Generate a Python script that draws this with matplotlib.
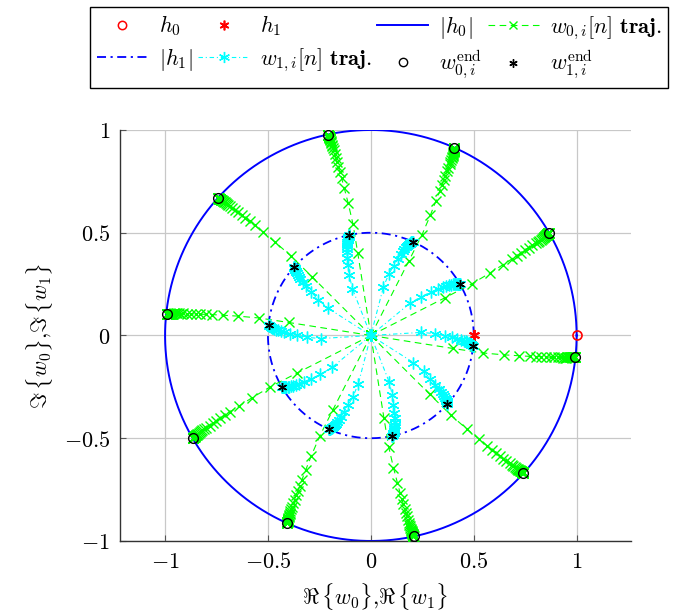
import numpy as np
import matplotlib
matplotlib.use('Agg')
import matplotlib.pyplot as plt
from matplotlib.lines import Line2D

plt.rcParams['mathtext.fontset'] = 'cm'
plt.rcParams['font.family'] = ['DejaVu Serif']

# ---------------- data ----------------
# angles (deg) of the final filter coefficients (same for w0 and w1)
end_angles_deg = [-6, 30, 66, 102, 138, 174, 210, 246, 282, 318]

# shape of one w0 trajectory: radius and angular deviation (deg) from its end angle
w0_radius = [0.0, 0.405, 0.55, 0.652, 0.727, 0.779, 0.81, 0.835, 0.858, 0.88,
             0.898, 0.918, 0.93, 0.94, 0.948, 0.955, 0.961, 0.966, 0.970, 0.974,
             0.977, 0.980, 0.982, 0.984, 0.986, 0.988, 0.989, 0.990, 0.991, 0.992,
             0.993, 0.994, 0.995, 0.995, 0.996, 0.996, 0.997, 0.997, 0.998, 0.998]
w0_angle_offset = [0.0, -3.0, -2.9, -2.3, -1.8, -1.5, -1.3, -1.1, -1.0, -0.9,
                   -0.8, -0.7, -0.6, -0.55, -0.5, -0.45, -0.4, -0.35, -0.3, -0.28,
                   -0.25, -0.22, -0.2, -0.18, -0.16, -0.14, -0.12, -0.1, -0.09, -0.08,
                   -0.07, -0.06, -0.05, -0.04, -0.03, -0.02, -0.02, -0.01, -0.01, 0.0]

# shape of one w1 trajectory
w1_radius = [0.0, 0.245, 0.31, 0.358, 0.395, 0.42, 0.438, 0.452, 0.462, 0.47,
             0.476, 0.481, 0.485, 0.488, 0.491, 0.493, 0.495, 0.496, 0.497, 0.498,
             0.499, 0.4995, 0.5]
w1_angle_offset = [0.0, 9.5, 7.7, 5.9, 4.7, 3.9, 3.3, 2.8, 2.4, 2.0,
                   1.7, 1.4, 1.2, 1.0, 0.8, 0.65, 0.5, 0.4, 0.3, 0.2,
                   0.1, 0.05, 0.0]

h0_point = [1.0, 0.0]
h1_point = [0.5, 0.0]
h0_mag = 1.0
h1_mag = 0.5

xticks = [-1, -0.5, 0, 0.5, 1]
yticks = [-1, -0.5, 0, 0.5, 1]
tick_labels = [r'$-1$', r'$-0.5$', r'$0$', r'$0.5$', r'$1$']

# ---------------- figure ----------------
GREEN = '#00ff00'
CYAN = '#00ffff'
BLUE = '#0000ff'
RED = '#ff0000'
AST = (6, 2, 0)

fig = plt.figure(figsize=(6.73, 6.16), dpi=100)
ax = fig.add_axes([0.178, 0.1218, 0.7598, 0.6672])

t = np.linspace(0, 2 * np.pi, 400)

# h0, h1
ax.plot([h0_point[0]], [h0_point[1]], 'o', mfc='none', mec=RED, ms=6.5, mew=1.2, zorder=3)
ax.plot([h1_point[0]], [h1_point[1]], marker=AST, ls='none', mec=RED, ms=8, mew=1.4, zorder=3)
# |h0|
ax.plot(h0_mag * np.cos(t), h0_mag * np.sin(t), color=BLUE, lw=1.4, zorder=2)

r0 = np.array(w0_radius)
o0 = np.deg2rad(np.array(w0_angle_offset))
r1 = np.array(w1_radius)
o1 = np.deg2rad(np.array(w1_angle_offset))

# w0 trajectories
ends0 = []
for a in end_angles_deg:
    th = np.deg2rad(a) + o0
    x, y = r0 * np.cos(th), r0 * np.sin(th)
    ax.plot(x, y, color=GREEN, ls=(0, (6, 4)), lw=0.8, marker='x', ms=6.5, mew=1.0, zorder=4)
    ends0.append((x[-1], y[-1]))

# |h1|
ax.plot(h1_mag * np.cos(t), h1_mag * np.sin(t), color=BLUE, lw=1.3,
        ls=(0, (5, 2.5, 1.2, 2.5)), zorder=2)

# w1 trajectories
ends1 = []
for a in end_angles_deg:
    th = np.deg2rad(a) + o1
    x, y = r1 * np.cos(th), r1 * np.sin(th)
    ax.plot(x, y, color=CYAN, ls=(0, (4, 2.5, 1, 2.5)), lw=0.8, marker=AST, ms=8.5,
            mew=1.0, zorder=5)
    ends1.append((x[-1], y[-1]))

ends0 = np.array(ends0)
ends1 = np.array(ends1)
ax.plot(ends0[:, 0], ends0[:, 1], 'o', mfc='none', mec='black', ms=7, mew=1.0, zorder=6)
ax.plot(ends1[:, 0], ends1[:, 1], marker=AST, ls='none', mec='black', ms=6.5, mew=1.0, zorder=6)

ax.set_xlim(-1.22, 1.265)
ax.set_ylim(-1, 1)
ax.set_xticks(xticks)
ax.set_yticks(yticks)
ax.set_xticklabels(tick_labels, fontsize=16)
ax.set_yticklabels(tick_labels, fontsize=16)
ax.grid(True, color='#c8c8c8', lw=0.9)
ax.set_axisbelow(True)
for s in ['top', 'right']:
    ax.spines[s].set_visible(False)
for s in ['left', 'bottom']:
    ax.spines[s].set_color('#333333')
    ax.spines[s].set_linewidth(1.0)
ax.tick_params(direction='in', length=4, width=0.8, color='#555555', pad=7)

ax.set_xlabel(r'$\Re\,\{w_0\}{,}\Re\,\{w_1\}$', fontsize=16, labelpad=6)
ax.set_ylabel(r'$\Im\,\{w_0\}{,}\Im\,\{w_1\}$', fontsize=16, labelpad=6)

# legend
hd = {
    'h0': Line2D([], [], ls='none', marker='o', mfc='none', mec=RED, ms=6, mew=1.1),
    'h1': Line2D([], [], ls='none', marker=AST, mec=RED, ms=7, mew=1.2),
    'H0': Line2D([], [], color=BLUE, lw=1.4),
    'w0': Line2D([], [], color=GREEN, ls=(0, (6, 4)), lw=0.8, marker='x', ms=6, mew=1.0),
    'H1': Line2D([], [], color=BLUE, lw=1.3, ls=(0, (5, 2.5, 1.2, 2.5))),
    'w1': Line2D([], [], color=CYAN, ls=(0, (4, 2.5, 1, 2.5)), lw=0.8, marker=AST, ms=8, mew=1.0),
    'e0': Line2D([], [], ls='none', marker='o', mfc='none', mec='black', ms=6, mew=1.0),
    'e1': Line2D([], [], ls='none', marker=AST, mec='black', ms=6, mew=1.0),
}
lab = {
    'h0': r'$h_0$',
    'h1': r'$h_1$',
    'H0': r'$|h_0|$',
    'w0': r'$w_{0,i}[n]\ \mathbf{traj.}$',
    'H1': r'$|h_1|$',
    'w1': r'$w_{1,i}[n]\ \mathbf{traj.}$',
    'e0': r'$w_{0,i}^{\mathrm{end}}$',
    'e1': r'$w_{1,i}^{\mathrm{end}}$',
}
order = ['h0', 'H1', 'h1', 'w1', 'H0', 'e0', 'w0', 'e1']
leg = fig.legend([hd[k] for k in order], [lab[k] for k in order], ncol=4,
                 loc='lower left', bbox_to_anchor=(0.134, 0.857, 0.859, 0.138),
                 mode='expand', fontsize=16, frameon=True, fancybox=False,
                 edgecolor='black', framealpha=1, borderaxespad=0, handlelength=2.3,
                 columnspacing=0.6, handletextpad=0.5, labelspacing=0.35, borderpad=0.3)
leg.get_frame().set_linewidth(1.0)

fig.savefig('out.png', dpi=100)
